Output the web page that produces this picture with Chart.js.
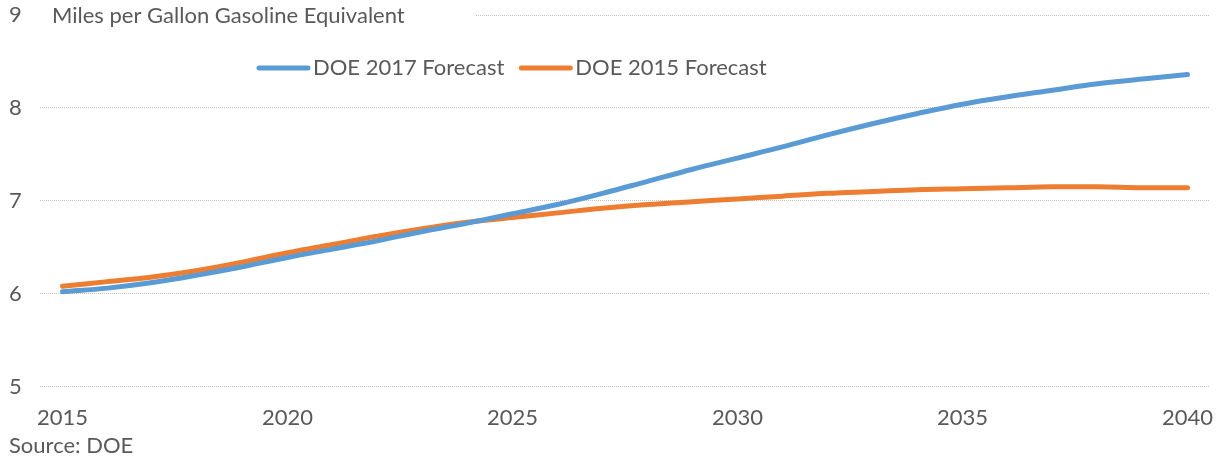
<!DOCTYPE html>
<html>
<head>
<meta charset="utf-8">
<script src="https://cdn.jsdelivr.net/npm/chart.js@4/dist/chart.umd.min.js"></script>
<style>
  html, body { margin: 0; padding: 0; background: #ffffff; }
  #wrap { width: 1225px; height: 459px; position: relative; }
</style>
</head>
<body>
<div id="wrap"><canvas id="mpgChart"></canvas></div>
<script>
// data
const years = [2015, 2016, 2017, 2018, 2019, 2020, 2021, 2022, 2023, 2024, 2025, 2026, 2027,
               2028, 2029, 2030, 2031, 2032, 2033, 2034, 2035, 2036, 2037, 2038, 2039, 2040];
const doe2017 = [6.02, 6.06, 6.12, 6.20, 6.29, 6.39, 6.48, 6.57, 6.67, 6.76, 6.86, 6.96, 7.08,
                 7.21, 7.34, 7.46, 7.58, 7.71, 7.83, 7.94, 8.04, 8.12, 8.19, 8.26, 8.31, 8.36];
const doe2015 = [6.08, 6.13, 6.18, 6.25, 6.34, 6.44, 6.53, 6.62, 6.70, 6.77, 6.82, 6.87, 6.92,
                 6.96, 6.99, 7.02, 7.05, 7.08, 7.10, 7.12, 7.13, 7.14, 7.15, 7.15, 7.14, 7.14];
const seriesNames = ["DOE 2017 Forecast", "DOE 2015 Forecast"];
const yTicks = [5, 6, 7, 8, 9];
const xTickLabels = [2015, 2020, 2025, 2030, 2035, 2040];
const unitTitle = "Miles per Gallon Gasoline Equivalent";
const sourceNote = "Source: DOE";

const FONT = "Lato, 'Open Sans', sans-serif";
const TEXT = "#595959";

// title at top-left sits over the top gridline, legend sits inside the plot
const overlayPlugin = {
    id: "overlay",
    beforeDatasetsDraw(chart) {
        const ctx = chart.ctx;
        const area = chart.chartArea;
        ctx.save();
        ctx.font = "22px " + FONT;
        ctx.textBaseline = "middle";
        const tw = ctx.measureText(unitTitle).width;
        ctx.fillStyle = "#ffffff";
        ctx.fillRect(area.left, area.top - 8, 12 + tw + 70, 16);
        ctx.fillStyle = TEXT;
        ctx.fillText(unitTitle, area.left + 12, area.top + 1);

        // legend
        let x = 257;
        const y = 68;
        chart.data.datasets.forEach((ds) => {
            ctx.strokeStyle = ds.borderColor;
            ctx.lineWidth = 5;
            ctx.lineCap = "round";
            ctx.beginPath();
            ctx.moveTo(x + 2, y);
            ctx.lineTo(x + 51, y);
            ctx.stroke();
            ctx.fillStyle = TEXT;
            ctx.fillText(ds.label, x + 56, y);
            x += 56 + ctx.measureText(ds.label).width + 15;
        });
        ctx.restore();
    },
};

const ctx = document.getElementById("mpgChart").getContext("2d");
const mpgChart = new Chart(ctx, {
    type: "line",
    data: {
        labels: years,
        datasets: [
            {
                label: seriesNames[0],
                data: doe2017,
                borderColor: "#5B9BD5",
                borderWidth: 5,
                borderCapStyle: "round",
                pointRadius: 0,
                tension: 0.4,
                fill: false,
            },
            {
                label: seriesNames[1],
                data: doe2015,
                borderColor: "#ED7D31",
                borderWidth: 5,
                borderCapStyle: "round",
                pointRadius: 0,
                tension: 0.4,
                fill: false,
            },
        ],
    },
    options: {
        responsive: true,
        maintainAspectRatio: false,
        animation: false,
        layout: {
            padding: { top: 15, right: 15, left: 9, bottom: 0 },
        },
        plugins: {
            legend: { display: false },
            tooltip: { enabled: false },
            subtitle: {
                display: true,
                text: sourceNote,
                position: "bottom",
                align: "start",
                color: TEXT,
                font: { size: 22, family: FONT, weight: "normal" },
                padding: { top: 6, bottom: 0 },
            },
        },
        scales: {
            x: {
                type: "category",
                offset: true,
                grid: { display: false },
                border: { display: false },
                afterFit: (scale) => { scale.height = 40; },
                ticks: {
                    autoSkip: false,
                    maxRotation: 0,
                    padding: 10,
                    color: TEXT,
                    font: { size: 22, family: FONT },
                    callback: function (value) {
                        const yr = this.getLabelForValue(value);
                        return xTickLabels.includes(yr) ? String(yr) : "";
                    },
                },
            },
            y: {
                min: yTicks[0],
                max: yTicks[yTicks.length - 1],
                afterFit: (scale) => { scale.width = 31; },
                afterBuildTicks: (scale) => {
                    scale.ticks = yTicks.map((v) => ({ value: v }));
                },
                grid: {
                    color: "#c4c4c4",
                    lineWidth: 1,
                    drawTicks: false,
                },
                border: { display: false, dash: [1, 1] },
                ticks: {
                    padding: 0,
                    crossAlign: "far",
                    color: TEXT,
                    font: { size: 22, family: FONT },
                },
            },
        },
    },
    plugins: [overlayPlugin],
});
</script>
</body>
</html>
